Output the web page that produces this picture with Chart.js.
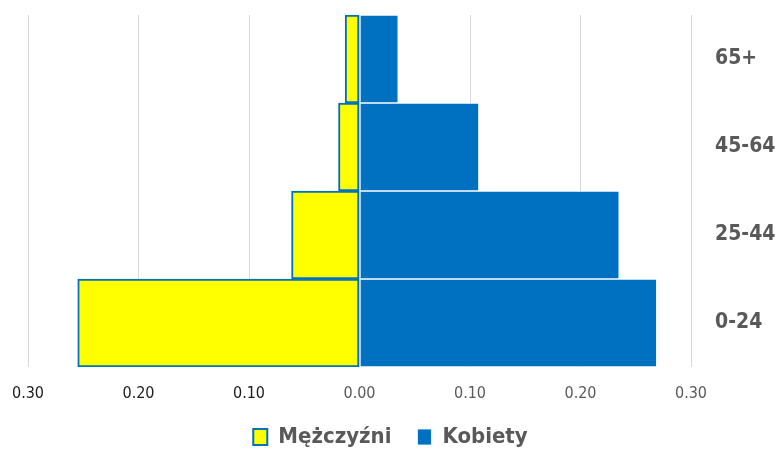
<!DOCTYPE html>
<html>
<head>
<meta charset="utf-8">
<script src="https://cdn.jsdelivr.net/npm/chart.js@4.4.1/dist/chart.umd.min.js"></script>
<style>
  html, body { margin: 0; padding: 0; background: #fff; }
  #wrap { width: 781px; height: 451px; }
</style>
</head>
<body>
<div id="wrap"><canvas id="piramida"></canvas></div>
<script>
// --- dane ---
const grupyWieku = ["65+", "45-64", "25-44", "0-24"];
const mezczyzni = [0.013, 0.019, 0.0615, 0.255]; // rysowane na lewo (ujemne)
const kobiety = [0.035, 0.108, 0.235, 0.269];
const osX = [-0.3, -0.2, -0.1, 0, 0.1, 0.2, 0.3];

const FONT = "'Liberation Sans Narrow', 'DejaVu Sans Condensed', sans-serif";
const ctx = document.getElementById("piramida").getContext("2d");

new Chart(ctx, {
  type: "bar",
  data: {
    labels: grupyWieku,
    datasets: [
      {
        label: "Mężczyźni",
        data: mezczyzni.map(v => -v),
        backgroundColor: "#FFFF00",
        borderColor: "#0070C0",
        borderWidth: 2,
        borderSkipped: false
      },
      {
        label: "Kobiety",
        data: kobiety,
        backgroundColor: "#0070C0",
        borderColor: "rgba(255,255,255,0.8)",
        borderWidth: 1,
        borderSkipped: false
      }
    ]
  },
  options: {
    indexAxis: "y",
    responsive: true,
    maintainAspectRatio: false,
    animation: false,
    layout: { padding: { left: 0, right: 0, top: 15, bottom: -7 } },
    datasets: {
      bar: { categoryPercentage: 1.0, barPercentage: 1.0 }
    },
    scales: {
      x: {
        stacked: true,
        min: -0.3,
        max: 0.3,
        afterBuildTicks: (axis) => { axis.ticks = osX.map(v => ({ value: v })); },
        grid: { color: "#d9d9d9", lineWidth: 1, drawTicks: false },
        border: { display: false },
        ticks: {
          padding: 17,
          font: { family: FONT, size: 16 },
          color: (c) => (c.tick && c.tick.value < 0 ? "#1a1a1a" : "#595959"),
          callback: (v) => Math.abs(v).toFixed(2)
        },
        afterFit: (axis) => {
          axis.height = 33;
          axis.paddingLeft = 28; // lewa krawedz wykresu jak w oryginale
          axis.paddingRight = 0;
        }
      },
      y: {
        stacked: true,
        position: "right",
        grid: { display: false },
        border: { display: false },
        ticks: {
          padding: 16,
          font: { family: FONT, size: 21, weight: "bold" },
          color: "#595959"
        },
        afterFit: (axis) => {
          axis.width = 90;
          axis.paddingTop = 0;
          axis.paddingBottom = 0;
        }
      }
    },
    plugins: {
      legend: {
        position: "bottom",
        labels: {
          font: { family: FONT, size: 22, weight: "bold" },
          color: "#595959",
          boxWidth: 14,
          boxHeight: 16,
          padding: 26
        }
      },
      tooltip: { enabled: false }
    }
  }
});
</script>
</body>
</html>
